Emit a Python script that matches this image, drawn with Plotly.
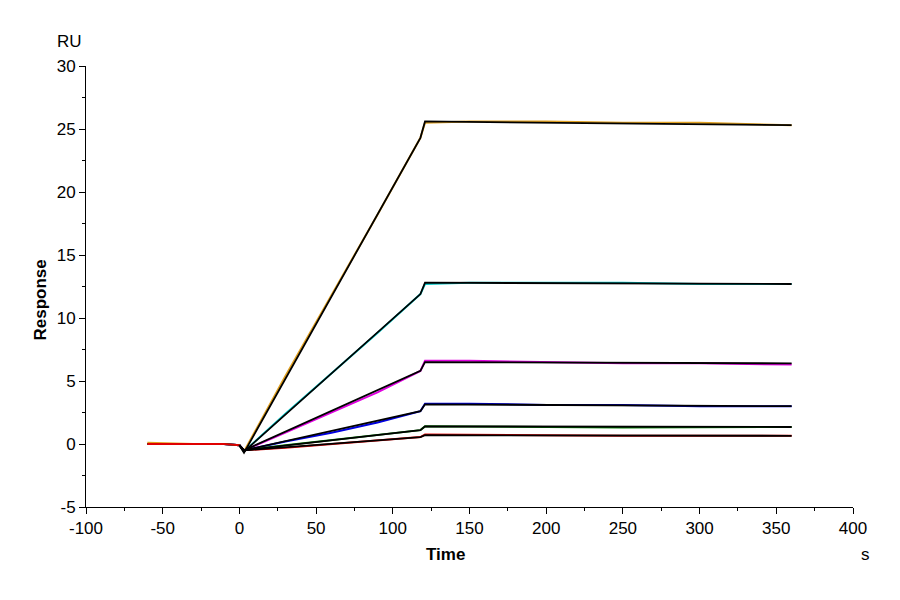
import plotly.graph_objects as go

t = [-60, -30, -10, 0, 3, 30, 60, 90, 118, 121, 150, 200, 250, 300, 360]
orange = [0.1, 0.0, 0.0, -0.1, -0.6, 5.4, 11.8, 18.2, 24.3, 25.5, 25.6, 25.6, 25.5, 25.5, 25.3]
cyan = [0.0, 0.0, 0.0, -0.1, -0.6, 2.4, 5.6, 8.8, 11.9, 12.7, 12.8, 12.8, 12.8, 12.7, 12.7]
magenta = [0.0, 0.0, 0.0, -0.1, -0.5, 0.9, 2.5, 4.1, 5.8, 6.6, 6.6, 6.5, 6.4, 6.4, 6.3]
blue = [0.0, 0.0, 0.0, -0.1, -0.5, 0.2, 0.9, 1.7, 2.6, 3.2, 3.2, 3.1, 3.1, 3.0, 3.0]
green = [0.0, 0.0, 0.0, -0.1, -0.5, -0.1, 0.3, 0.7, 1.1, 1.4, 1.4, 1.35, 1.3, 1.3, 1.35]
red = [0.0, 0.0, 0.0, -0.1, -0.5, -0.3, 0.0, 0.3, 0.55, 0.75, 0.75, 0.7, 0.65, 0.65, 0.65]

tf = [0, 3, 118, 121, 360]
fits = [
    [-0.1, -0.7, 24.3, 25.6, 25.3],
    [-0.1, -0.6, 11.9, 12.8, 12.7],
    [-0.1, -0.5, 5.8, 6.5, 6.4],
    [-0.1, -0.5, 2.6, 3.15, 3.0],
    [-0.1, -0.5, 1.1, 1.4, 1.35],
    [-0.1, -0.5, 0.55, 0.7, 0.65],
]

xticks = [-100, -50, 0, 50, 100, 150, 200, 250, 300, 350, 400]
yticks = [-5, 0, 5, 10, 15, 20, 25, 30]

series = [(orange, "#E0A020"), (cyan, "#00C8C8"), (magenta, "#E000E0"),
          (blue, "#0000E0"), (green, "#008000"), (red, "#E00000")]

fig = go.Figure()
for y, c in series:
    fig.add_trace(go.Scatter(x=t, y=y, mode="lines", line=dict(color=c, width=2), showlegend=False))
for y in fits:
    fig.add_trace(go.Scatter(x=tf, y=y, mode="lines", line=dict(color="black", width=1.8), showlegend=False))

font = dict(family="Arial, Liberation Sans", size=17, color="black")
axis_common = dict(showline=True, linecolor="black", linewidth=1, ticks="outside", ticklen=6,
                   tickcolor="black", showgrid=False, zeroline=False, automargin=False, tickfont=font)
fig.update_layout(
    width=900, height=600, plot_bgcolor="white", paper_bgcolor="white",
    margin=dict(l=78, r=55, t=58, b=101),
    xaxis=dict(range=[-100, 400], tickvals=xticks, ticktext=[str(v) for v in xticks],
               minor=dict(dtick=25, ticks="outside", ticklen=3, tickcolor="black"), **axis_common),
    yaxis=dict(range=[-5, 30], tickvals=yticks, ticktext=[str(v) for v in yticks],
               minor=dict(dtick=2.5, ticks="outside", ticklen=3, tickcolor="black"), **axis_common),
)
L, T, W, H = 78, 58, 767, 441
labels = [("RU", 47, 22, 0), ("<b>Time</b>", 437, 558, 0), ("s", 864, 558, 0), ("<b>Response</b>", 20, 292, -90)]
for txt, px, py, ang in labels:
    fig.add_annotation(text=txt, x=(px - L) / W, y=(T + H - py) / H, xref="paper", yref="paper",
                       showarrow=False, textangle=ang, font=font)
fig.write_html("out.html")
